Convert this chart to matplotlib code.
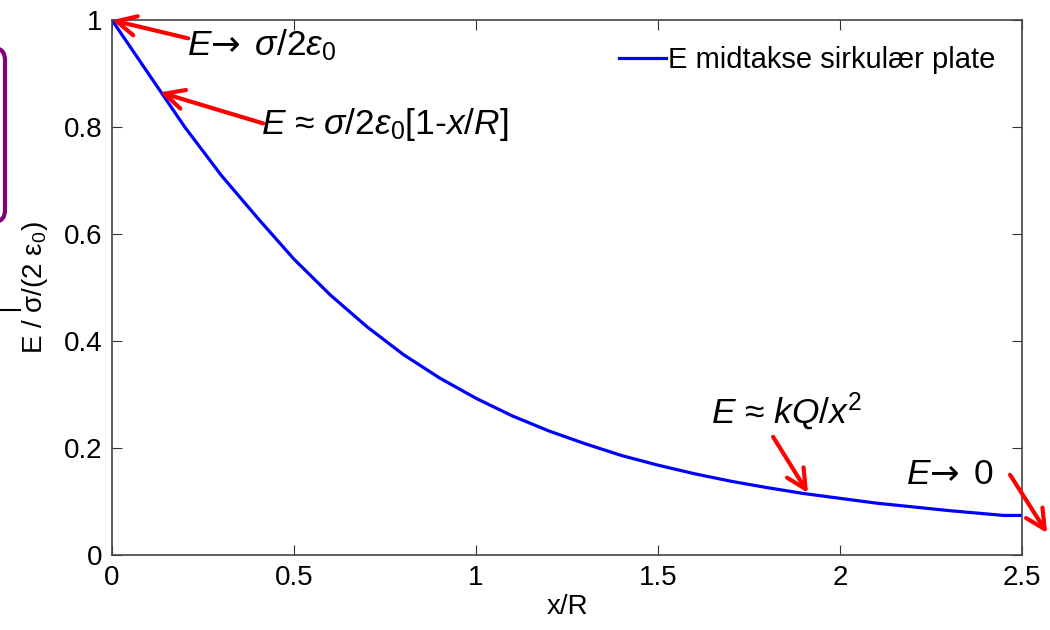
import matplotlib
matplotlib.use("Agg")
import matplotlib.pyplot as plt
from matplotlib.patches import FancyBboxPatch

plt.rcParams['font.family'] = ['Liberation Sans', 'DejaVu Sans']
plt.rcParams['mathtext.fontset'] = 'custom'
plt.rcParams['mathtext.rm'] = 'Liberation Sans'
plt.rcParams['mathtext.it'] = 'Liberation Sans:italic'
plt.rcParams['mathtext.sf'] = 'DejaVu Sans'

# field on the axis of a charged disc
x_r = [0.0, 0.1, 0.2, 0.3, 0.4, 0.5, 0.6, 0.7, 0.8, 0.9, 1.0, 1.1, 1.2,
       1.3, 1.4, 1.5, 1.6, 1.7, 1.8, 1.9, 2.0, 2.1, 2.2, 2.3, 2.4, 2.45, 2.5]
e_rel = [1.0, 0.90, 0.80, 0.71, 0.63, 0.553, 0.486, 0.427, 0.375, 0.331, 0.293,
         0.26, 0.232, 0.208, 0.186, 0.168, 0.152, 0.138, 0.126, 0.115, 0.106,
         0.097, 0.090, 0.083, 0.077, 0.074, 0.074]
x_ticks = [0, 0.5, 1, 1.5, 2, 2.5]
x_labels = ['0', '0.5', '1', '1.5', '2', '2.5']
y_ticks = [0, 0.2, 0.4, 0.6, 0.8, 1]
y_labels = ['0', '0.2', '0.4', '0.6', '0.8', '1']

notes = [r'$E\mathsf{→}\ \,σ/2ε_0$', r'$E$ ≈ $σ/2ε_0$[1-$x/R$]',
         r'$E$ ≈ $kQ/x^2$', r'$E\mathsf{→}\ \,\mathrm{0}$']
note_pos = [(0.205, 0.953), (0.41, 0.805), (1.645, 0.267), (2.18, 0.15)]
arrow_tip = [(0.0, 1.0), (0.132, 0.865), (1.912, 0.116), (2.569, 0.041)]
arrow_tail = [(0.209, 0.966), (0.415, 0.807), (1.816, 0.221), (2.467, 0.150)]

fig = plt.figure(figsize=(10.5, 6.3), dpi=100)
ax = fig.add_axes([0.1067, 0.119, 0.8667, 0.849])

ax.plot(x_r, e_rel, color='#0000ff', lw=2.3, label='E midtakse sirkulær plate')
ax.set_xlim(0, 2.5)
ax.set_ylim(0, 1)
ax.set_xticks(x_ticks, x_labels)
ax.set_yticks(y_ticks, y_labels)
ax.tick_params(direction='in', length=7, top=True, right=True, labelsize=20,
               color='#333333', pad=7)
for s in ax.spines.values():
    s.set_color('#444444')
    s.set_linewidth(1.2)
ax.set_xlabel('x/R', fontsize=20, labelpad=2)
ax.set_ylabel(r'E / σ/(2 ε$_0$)', fontsize=20, labelpad=10)

leg = ax.legend(loc='upper right', frameon=False, fontsize=21, handlelength=1.6,
                handletextpad=0.1, borderaxespad=0.5)

for txt, pos in zip(notes, note_pos):
    ax.text(pos[0], pos[1], txt, fontsize=25.5, family='Liberation Sans',
            va='center', ha='left')
for tip, tail in zip(arrow_tip, arrow_tail):
    ax.annotate('', xy=tip, xytext=tail, annotation_clip=False,
                arrowprops=dict(arrowstyle='->,head_length=0.7,head_width=0.35',
                                mutation_scale=20, color='red', lw=3,
                                shrinkA=0, shrinkB=0))

# purple frame cut by the left edge and a short rule near the label
fig.patches.append(FancyBboxPatch((-20, 630 - 222), 25, 174, boxstyle='round,pad=0,rounding_size=12',
                                  transform=None, fill=False, edgecolor='#800080', lw=3))
fig.lines.append(plt.Line2D([0, 20], [630 - 310, 630 - 310], transform=None,
                            color='black', lw=1.5))

fig.savefig('out.png', dpi=100)
